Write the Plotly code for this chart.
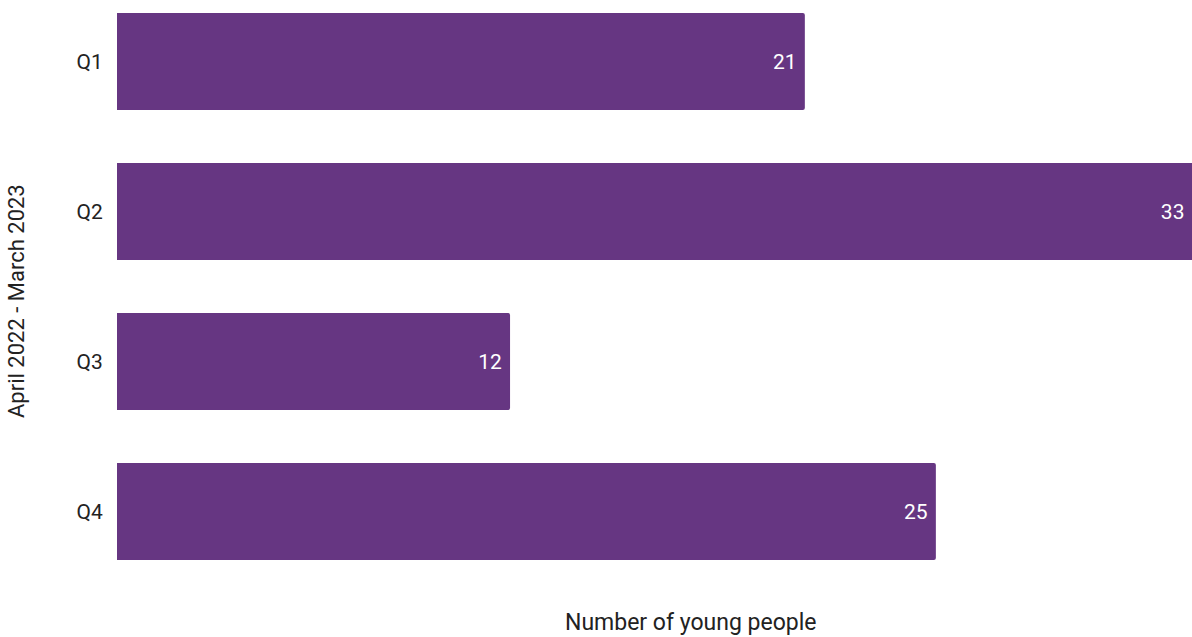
import plotly.graph_objects as go

quarters = ["Q1", "Q2", "Q3", "Q4"]
young_people = [21, 33, 12, 25]

bar_colour = "#663682"
text_colour = "#222222"

x_max = 32.82
plot_left, plot_right, plot_bottom = 117, 1192, 590
plot_w = plot_right - plot_left

# trailing no-break spaces keep each value clear of its bar end;
# a bar running past the axis gets one more so its label stays in view
value_labels = [
    f"{v}\u00a0" + ("\u00a0" if v > x_max else "") for v in young_people
]

fig = go.Figure(
    go.Bar(
        x=young_people,
        y=quarters,
        orientation="h",
        marker=dict(color=bar_colour, line=dict(width=0), cornerradius=2),
        text=value_labels,
        textposition="inside",
        insidetextanchor="end",
        textfont=dict(color="white", size=21, family="Roboto"),
        cliponaxis=True,
        width=0.647,
    )
)

fig.update_layout(
    width=1192,
    height=637,
    margin=dict(l=plot_left, r=0, t=0, b=637 - plot_bottom),
    plot_bgcolor="white",
    paper_bgcolor="white",
    font=dict(family="Roboto", size=21, color=text_colour),
    showlegend=False,
    uniformtext=dict(minsize=21, mode="show"),
    annotations=[
        dict(
            text="Number of young people",
            x=(690 - plot_left) / plot_w, xref="paper", xanchor="center",
            y=-(622 - plot_bottom) / plot_bottom, yref="paper",
            yanchor="middle",
            showarrow=False,
            font=dict(size=23, family="Roboto", color=text_colour),
        ),
        dict(
            text="April 2022 - March 2023",
            textangle=-90,
            x=-(plot_left - 17) / plot_w, xref="paper", xanchor="center",
            y=1 - 301 / plot_bottom, yref="paper", yanchor="middle",
            showarrow=False,
            font=dict(size=22, family="Roboto", color=text_colour),
        ),
    ],
)

fig.update_xaxes(
    range=[0, x_max],
    showgrid=False,
    zeroline=False,
    showticklabels=False,
    ticks="",
    showline=False,
)
fig.update_yaxes(
    categoryorder="array",
    categoryarray=quarters,
    range=[3.523, -0.41],
    showgrid=False,
    zeroline=False,
    showline=False,
    ticks="outside",
    ticklen=9,
    tickcolor="rgba(0,0,0,0)",
    tickfont=dict(size=21, family="Roboto", color=text_colour),
)

fig.write_html("out.html")
